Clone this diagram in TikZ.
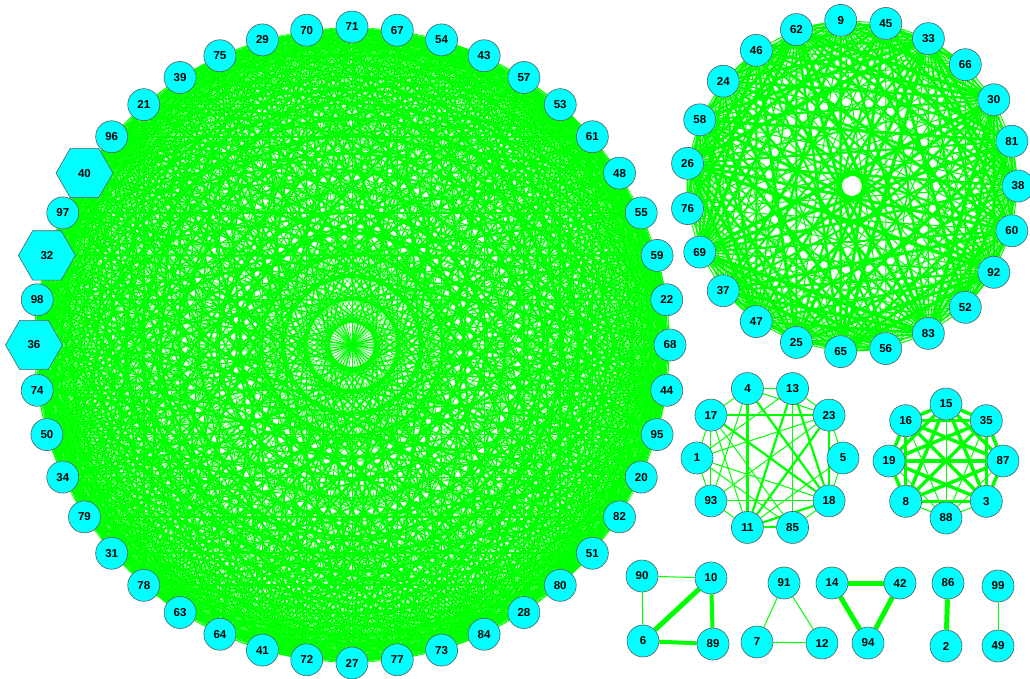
\documentclass[tikz,border=0pt]{standalone}
\usepackage{fontspec}
\setmainfont{Liberation Sans}
\usetikzlibrary{shapes.geometric,backgrounds}
\definecolor{verdeArista}{HTML}{00FF00}
\definecolor{cianNodo}{HTML}{00FFFF}
\definecolor{bordeNodo}{HTML}{5A5A5A}

\def\listaGrande{71,67,54,43,57,53,61,48,55,59,22,68,44,95,20,82,51,80,28,84,73,77,27,72,41,64,63,78,31,79,34,50,74,36,98,32,97,40,96,21,39,75,29,70}
\def\listaMedia{9,45,33,66,30,81,38,60,92,52,83,56,65,25,47,37,69,76,26,58,24,46,62}
\def\listaDiez{5,23,13,4,17,1,93,11,85,18}
\def\listaOcho{87,35,15,16,19,8,88,3}

\begin{document}
\begin{tikzpicture}[x=1pt,y=-1pt,
  vertice/.style={circle,draw=bordeNodo,fill=cianNodo,line width=0.6pt,
    minimum size=32pt,inner sep=0pt,font=\fontsize{11.5}{13}\selectfont\bfseries},
  hexa/.style={vertice,regular polygon,regular polygon sides=6,minimum size=57pt},
  arista/.style={verdeArista}]
  \useasboundingbox (0,0) rectangle (1030,679);

  % componente grande
  \foreach \n [count=\k from 0] in \listaGrande {
    \pgfmathsetmacro\ang{90-\k*360/44}
    \pgfmathtruncatemacro\hx{(\n==36)||(\n==32)||(\n==40)}
    \ifnum\hx=1
      \node[hexa] (n\n) at ({352+318*cos(\ang)},{345-318*sin(\ang)}) {\n};
    \else
      \node[vertice] (n\n) at ({352+318*cos(\ang)},{345-318*sin(\ang)}) {\n};
    \fi
  }
  % componente mediana
  \foreach \n [count=\k from 0] in \listaMedia {
    \pgfmathsetmacro\ang{93.9-\k*360/23}
    \node[vertice] (n\n) at ({852+166*cos(\ang)},{186-166*sin(\ang)}) {\n};
  }
  % anillos pequenos
  \foreach \n [count=\k from 0] in \listaDiez {
    \node[vertice] (n\n) at ({770+73*cos(36*\k)},{458-73*sin(36*\k)}) {\n};
  }
  \foreach \n [count=\k from 0] in \listaOcho {
    \node[vertice] (n\n) at ({946+57*cos(45*\k)},{461-57*sin(45*\k)}) {\n};
  }
  \node[vertice] (n90) at (642,576) {90};
  \node[vertice] (n10) at (711,578) {10};
  \node[vertice] (n6)  at (643,641) {6};
  \node[vertice] (n89) at (713,644) {89};
  \node[vertice] (n91) at (784,583) {91};
  \node[vertice] (n7)  at (757,642) {7};
  \node[vertice] (n12) at (822,643) {12};
  \node[vertice] (n14) at (832,583) {14};
  \node[vertice] (n42) at (900,583) {42};
  \node[vertice] (n94) at (868,643) {94};
  \node[vertice] (n86) at (948,583) {86};
  \node[vertice] (n2)  at (946,646) {2};
  \node[vertice] (n99) at (998,586) {99};
  \node[vertice] (n49) at (998,646) {49};

  \begin{pgfonlayer}{background}
    \foreach \a [count=\i] in \listaGrande {
      \foreach \b [count=\j] in \listaGrande {
        \ifnum\j>\i
          \pgfmathsetmacro\grosor{0.6+0.25*mod(\i*\j+3*\i+\j,7)}
          \draw[arista,line width=\grosor pt] (n\a) -- (n\b);
        \fi
      }
    }
    \foreach \a [count=\i] in \listaMedia {
      \foreach \b [count=\j] in \listaMedia {
        \ifnum\j>\i
          \pgfmathsetmacro\grosor{1+0.5*mod(\i*\j+2*\j,6)}
          \draw[arista,line width=\grosor pt] (n\a) -- (n\b);
        \fi
      }
    }
    \foreach \a [count=\i] in \listaOcho {
      \foreach \b [count=\j] in \listaOcho {
        \ifnum\j>\i
          \pgfmathsetmacro\grosor{((\a==88)||(\b==88))?1:3.5}
          \draw[arista,line width=\grosor pt] (n\a) -- (n\b);
        \fi
      }
    }
    \foreach \a/\b/\g in {4/11/2.2,4/18/2.2,17/23/2.2,17/18/2.2,13/11/2.2,13/18/2.2,
        23/11/2.2,11/18/2.2,11/85/2,4/13/1,4/17/1,4/23/1,4/93/1,17/1/1,17/93/1,
        17/85/1,1/93/1,1/23/1,1/18/1,1/13/1,93/11/1,93/18/1,93/23/1,13/85/1.2,
        13/23/1,23/5/1,23/18/1.2,5/18/1,18/85/1,11/5/1,17/11/1,1/85/1,
        90/10/1,90/6/1,10/6/5,10/89/4,6/89/4,91/7/1,91/12/1,7/12/1,
        14/42/5,14/94/5,42/94/5,86/2/5,99/49/1}
      \draw[arista,line width=\g pt] (n\a) -- (n\b);
  \end{pgfonlayer}
\end{tikzpicture}
\end{document}
